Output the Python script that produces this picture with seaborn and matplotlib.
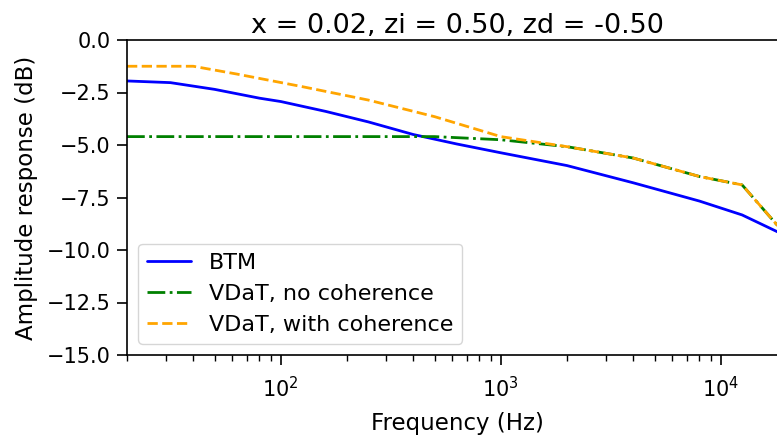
import numpy as np
import pandas as pd
import matplotlib
matplotlib.use("Agg")
import matplotlib.pyplot as plt
import seaborn as sns

# values
freq_btm = [20, 31.5, 50, 80, 100, 160, 250, 400, 630, 1000, 2000, 4000, 8000, 12500, 20000]
amp_btm = [-1.95, -2.03, -2.35, -2.77, -2.93, -3.4, -3.9, -4.5, -4.95, -5.37, -5.98, -6.8, -7.67, -8.33, -9.35]

freq_vdat = [20, 40, 63, 125, 250, 500, 1000, 2000, 4000, 8000, 12500, 20000]
amp_nocoh = [-4.6, -4.6, -4.6, -4.6, -4.6, -4.6, -4.75, -5.08, -5.62, -6.5, -6.9, -9.35]
amp_coh = [-1.25, -1.25, -1.62, -2.22, -2.86, -3.65, -4.6, -5.08, -5.62, -6.5, -6.9, -9.35]

title = "x = 0.02, zi = 0.50, zd = -0.50"

sns.set_style("ticks")
plt.rcParams["font.family"] = ["DejaVu Sans"]
plt.rcParams["text.color"] = "black"
plt.rcParams["axes.labelcolor"] = "black"
plt.rcParams["xtick.color"] = "black"
plt.rcParams["ytick.color"] = "black"

fig = plt.figure(figsize=(7.77, 4.38), dpi=100)
ax = fig.add_axes([127 / 777, 83 / 438, 660 / 777, 315 / 438])

sns.lineplot(x=freq_btm, y=amp_btm, ax=ax, color="blue", linewidth=2, label="BTM")
sns.lineplot(x=freq_vdat, y=amp_nocoh, ax=ax, color="green", linewidth=2,
             linestyle="-.", label="VDaT, no coherence")
sns.lineplot(x=freq_vdat, y=amp_coh, ax=ax, color="orange", linewidth=2,
             linestyle="--", label="VDaT, with coherence")

ax.set_xscale("log")
ax.set_xlim(20, 20000)
ax.set_ylim(-15, 0)
ax.set_yticks(np.arange(-15, 0.1, 2.5))
ax.tick_params(labelsize=15, direction="out", length=7, width=1.2, pad=5,
               color="black", labelcolor="black")
ax.tick_params(axis="x", pad=8)
ax.tick_params(which="minor", length=4, width=1.0, color="black")
for s in ax.spines.values():
    s.set_color("black")
    s.set_linewidth(1.2)

ax.set_title(title, fontsize=19.5, pad=5, color="black")
ax.set_xlabel("Frequency (Hz)", fontsize=16.5, labelpad=8)
ax.set_ylabel("Amplitude response (dB)", fontsize=16.5, labelpad=6)
leg = ax.legend(loc="lower left", fontsize=16, frameon=True, borderaxespad=0.5)
for t in leg.get_texts():
    t.set_color("black")

fig.savefig("out.png", dpi=100)
